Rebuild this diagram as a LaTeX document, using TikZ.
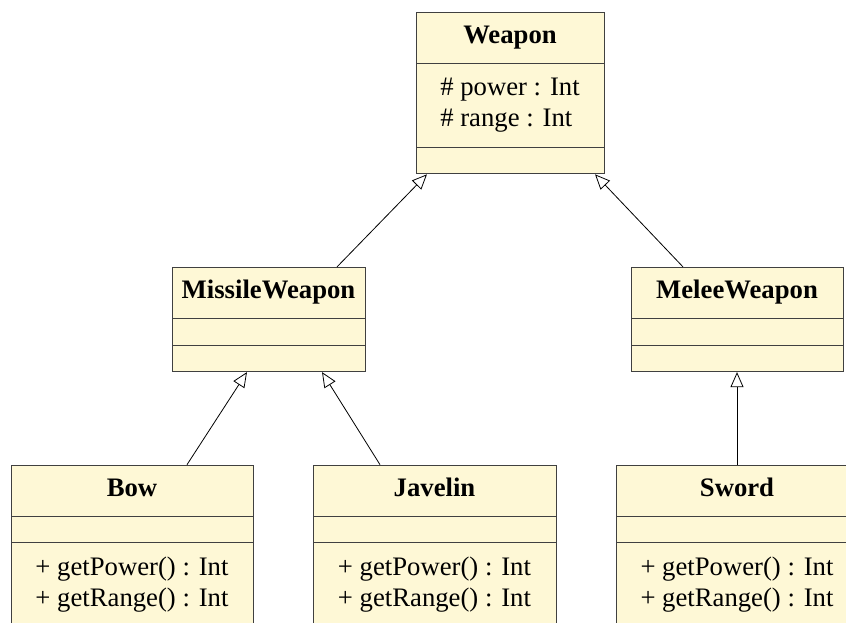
\documentclass[tikz,border=0pt]{standalone}
\usepackage{fontspec}
\setmainfont{Liberation Serif}
\usepackage{tikz}
\usetikzlibrary{shapes.multipart, arrows.meta, positioning}
\usepackage{xcolor}
\definecolor{classfill}{HTML}{FEF8D6}
\renewcommand{\arraystretch}{1.07}

\begin{document}
\begin{tikzpicture}[x=1pt, y=1pt, on grid,
    umlclass/.style={draw=black!75, line width=1pt, fill=classfill,
        rectangle split, rectangle split parts=3,
        inner xsep=6pt, inner ysep=10.5pt,
        font=\fontsize{26.7}{29}\selectfont},
    inherit/.style={-{Triangle[open, length=15pt, width=13pt]}, line width=0.8pt}]
    \useasboundingbox (0,0) rectangle (846,-623);

    % base class
    \node[umlclass, minimum width=188pt] (weapon) at (510,-93) {\strut\textbf{Weapon}
        \nodepart{two}\begin{tabular}{@{}l@{}}\# power : Int\\\# range : Int\end{tabular}
        \nodepart{three}};

    % second level
    \node[umlclass, minimum width=193pt, below left=226.5pt and 241.5pt of weapon] (missile) {\strut\textbf{MissileWeapon}
        \nodepart{two}
        \nodepart{three}};
    \node[umlclass, minimum width=212pt, below right=226.5pt and 227pt of weapon] (melee) {\strut\textbf{MeleeWeapon}
        \nodepart{two}
        \nodepart{three}};

    % leaves
    \node[umlclass, minimum width=242pt, below left=226.5pt and 136.5pt of missile] (bow) {\strut\textbf{Bow}
        \nodepart{two}
        \nodepart{three}\begin{tabular}{@{}l@{}}+ getPower() : Int\\+ getRange() : Int\end{tabular}};
    \node[umlclass, minimum width=243pt, below right=226.5pt and 166pt of missile] (javelin) {\strut\textbf{Javelin}
        \nodepart{two}
        \nodepart{three}\begin{tabular}{@{}l@{}}+ getPower() : Int\\+ getRange() : Int\end{tabular}};
    \node[umlclass, minimum width=242pt, below=226.5pt of melee] (sword) {\strut\textbf{Sword}
        \nodepart{two}
        \nodepart{three}\begin{tabular}{@{}l@{}}+ getPower() : Int\\+ getRange() : Int\end{tabular}};

    \draw[inherit] ([xshift=68.5pt]missile.north) -- ([xshift=-83pt]weapon.south);
    \draw[inherit] ([xshift=-54pt]melee.north) -- ([xshift=85pt]weapon.south);
    \draw[inherit] ([xshift=55pt]bow.north) -- ([xshift=-21.5pt]missile.south);
    \draw[inherit] ([xshift=-54.5pt]javelin.north) -- ([xshift=53.5pt]missile.south);
    \draw[inherit] (sword) -- (melee);
\end{tikzpicture}
\end{document}
